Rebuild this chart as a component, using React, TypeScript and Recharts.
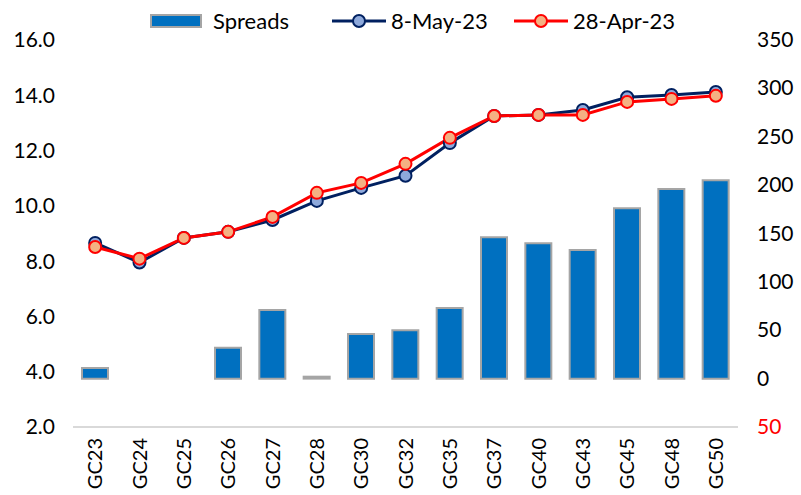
import { ComposedChart, Bar, Line, XAxis, YAxis } from 'recharts';

const categories = ['GC23', 'GC24', 'GC25', 'GC26', 'GC27', 'GC28', 'GC30', 'GC32', 'GC35', 'GC37', 'GC40', 'GC43', 'GC45', 'GC48', 'GC50'];
const spreads = [11, 0, 0, 32, 71, 2, 46, 50, 73, 146, 140, 133, 176, 196, 205];
const may8 = [8.66, 7.95, 8.84, 9.06, 9.49, 10.18, 10.65, 11.09, 12.27, 13.25, 13.29, 13.47, 13.93, 14.01, 14.12];
const apr28 = [8.51, 8.09, 8.84, 9.06, 9.6, 10.47, 10.83, 11.52, 12.46, 13.25, 13.29, 13.29, 13.76, 13.87, 13.98];
const leftTicks = [2, 4, 6, 8, 10, 12, 14, 16];
const rightTicks = [-50, 0, 50, 100, 150, 200, 250, 300, 350];

const data = categories.map((name, i) => ({
  name,
  spreads: spreads[i],
  may8: may8[i],
  apr28: apr28[i],
}));

const FONT = 'Lato, "Open Sans", sans-serif';

const RightTick = (props: any) => {
  const { x, y, payload } = props;
  const neg = payload.value < 0;
  return (
    <text x={x} y={y} dy={7} textAnchor="start" fontSize={21} fontFamily={FONT} fill={neg ? '#FF0000' : '#000'}>
      {Math.abs(payload.value)}
    </text>
  );
};

const XTick = (props: any) => {
  const { x, y, payload } = props;
  return (
    <text
      x={0}
      y={0}
      transform={`translate(${x + 7},${y}) rotate(-90)`}
      textAnchor="end"
      fontSize={20}
      fontFamily={FONT}
      fill="#000"
    >
      {payload.value}
    </text>
  );
};

function LegendItem({ kind, stroke, fill, label, left }: { kind: 'bar' | 'line'; stroke: string; fill: string; label: string; left: number }) {
  return (
    <div style={{ position: 'absolute', left, top: 7, display: 'flex', alignItems: 'center', gap: kind === 'bar' ? 11 : 5 }}>
      {kind === 'bar' ? (
        <svg width={52} height={14}>
          <rect x={1} y={1} width={50} height={12} fill={fill} stroke="#A5A5A5" strokeWidth={2} />
        </svg>
      ) : (
        <svg width={54} height={16}>
          <line x1={0} y1={8} x2={54} y2={8} stroke={stroke} strokeWidth={3} />
          <circle cx={27} cy={8} r={6} fill={fill} stroke={stroke} strokeWidth={2} />
        </svg>
      )}
      <span style={{ whiteSpace: 'nowrap' }}>{label}</span>
    </div>
  );
}

export default function App() {
  return (
    <div style={{ position: 'absolute', left: 0, top: 0, width: 801, height: 495, background: '#fff' }}>
      <div style={{ position: 'absolute', inset: 0, fontFamily: FONT, fontSize: 22, color: '#000', zIndex: 1, pointerEvents: 'none' }}>
        <LegendItem kind="bar" stroke="#A5A5A5" fill="#0070C0" label="Spreads" left={150} />
        <LegendItem kind="line" stroke="#002060" fill="#8EA9DB" label="8-May-23" left={332} />
        <LegendItem kind="line" stroke="#FF0000" fill="#F4B183" label="28-Apr-23" left={514} />
      </div>
      <ComposedChart width={801} height={495} data={data} margin={{ top: 40, right: 0, bottom: 0, left: 0 }}>
        <XAxis
          dataKey="name"
          xAxisId="x"
          height={68}
          axisLine={{ stroke: '#D9D9D9', strokeWidth: 2 }}
          tickLine={false}
          tickSize={0}
          tickMargin={11}
          interval={0}
          tick={<XTick />}
        />
        <YAxis
          yAxisId="left"
          orientation="left"
          width={73}
          domain={[2, 16]}
          ticks={leftTicks}
          axisLine={false}
          tickLine={false}
          tickSize={0}
          tickMargin={18}
          tickFormatter={(v: number) => v.toFixed(1)}
          tick={{ fontSize: 21, fontFamily: FONT, fill: '#000' }}
        />
        <YAxis
          yAxisId="right"
          orientation="right"
          width={63}
          domain={[-50, 350]}
          ticks={rightTicks}
          axisLine={false}
          tickLine={false}
          tickSize={0}
          tickMargin={19}
          tick={<RightTick />}
        />
        <Bar
          xAxisId="x"
          yAxisId="right"
          dataKey="spreads"
          name="Spreads"
          barSize={26}
          fill="#0070C0"
          stroke="#A5A5A5"
          strokeWidth={2}
          isAnimationActive={false}
        />
        <Line
          xAxisId="x"
          yAxisId="left"
          dataKey="may8"
          name="8-May-23"
          stroke="#002060"
          strokeWidth={3}
          dot={{ r: 6, fill: '#8EA9DB', stroke: '#002060', strokeWidth: 2 }}
          isAnimationActive={false}
        />
        <Line
          xAxisId="x"
          yAxisId="left"
          dataKey="apr28"
          name="28-Apr-23"
          stroke="#FF0000"
          strokeWidth={3}
          dot={{ r: 6, fill: '#F4B183', stroke: '#FF0000', strokeWidth: 2 }}
          isAnimationActive={false}
        />
      </ComposedChart>
    </div>
  );
}
